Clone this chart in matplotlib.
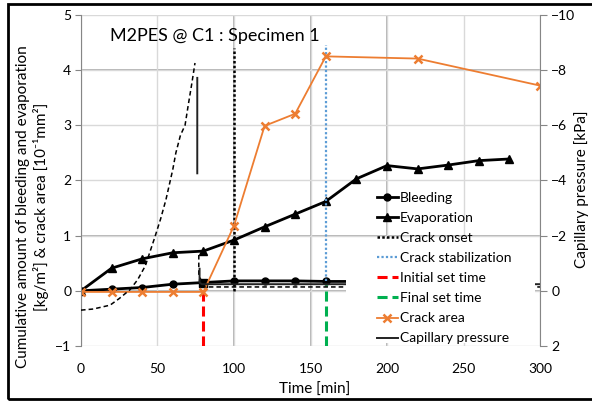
import matplotlib
matplotlib.use('Agg')
import matplotlib.pyplot as plt
from matplotlib.patches import Rectangle

plt.rcParams['font.family'] = ['Lato', 'DejaVu Sans']

# bleeding / evaporation [kg/m2]
time = [0, 20, 40, 60, 80, 100, 120, 140, 160, 180, 200, 220, 240, 260, 280]
bleeding = [0.0, 0.03, 0.06, 0.12, 0.15, 0.18, 0.18, 0.18, 0.17, 0.17, 0.17, 0.17, 0.17, 0.17, 0.17]
evaporation = [0.0, 0.41, 0.58, 0.69, 0.72, 0.92, 1.16, 1.39, 1.62, 2.03, 2.27, 2.21, 2.28, 2.36, 2.39]

# crack area [10^-1 mm2]
crack_time = [0, 20, 40, 60, 80, 100, 120, 140, 160, 220, 300]
crack_area = [-0.02, -0.02, -0.02, -0.02, -0.02, 1.18, 2.99, 3.21, 4.25, 4.21, 3.72]

# event times [min]
crack_onset = 100
crack_stab = 160
initial_set = 80
final_set = 160

# capillary pressure [kPa] (secondary axis), nan = gap in record
nan = float('nan')
cap1_time = [0, 8, 19, 25, 32, 37, 42, 45, 48, 52, 55.5, 60, 62, 65, 68, 70, 72.5, 74.5,
             nan, 77, 77, 80, 300]
cap1 = [0.7, 0.66, 0.52, 0.28, -0.04, -0.4, -0.9, -1.4, -1.9, -2.6, -3.3, -4.4, -5.0, -5.64,
        -6.0, -6.7, -7.54, -8.26, nan, -1.3, -0.6, -0.14, -0.14]
cap2_time = [76, 76, nan, 77.5, 77.5, 79, 300]
cap2 = [-7.72, -4.26, nan, -0.8, -0.3, -0.24, -0.24]

fig = plt.figure(figsize=(5.92, 4.01), dpi=100)
ax = fig.add_axes([0.1368, 0.1372, 0.7754, 0.8254])
ax2 = ax.twinx()

ax.set_xlim(0, 300)
ax.set_ylim(-1, 5)
ax2.set_ylim(2, -10)
ax.set_xticks(range(0, 301, 50))
ax.set_yticks(range(-1, 6))
ax2.set_yticks(range(-10, 3, 2))

ax.grid(color='#d9d9d9', lw=1)
for x in [100, 150, 200]:
    ax.axvline(x, color='#a6a6a6', lw=1.2, zorder=1)
for y in [0, 1, 4]:
    ax.axhline(y, color='#a6a6a6', lw=1.2, zorder=1)

for s in ['top', 'bottom', 'right']:
    ax.spines[s].set_visible(False)
for s in ['top', 'bottom', 'left']:
    ax2.spines[s].set_visible(False)
ax.spines['left'].set_color('#868686')
ax2.spines['right'].set_color('#868686')

ax.tick_params(axis='y', direction='out', length=4, color='#868686', labelsize=10, pad=3)
ax.tick_params(axis='x', length=0, labelsize=10, pad=12)
ax2.tick_params(axis='y', direction='out', length=5, color='#868686', labelsize=10, pad=3)

l_bl, = ax.plot(time, bleeding, '-o', color='black', lw=2, ms=5, label='Bleeding')
ax.plot([initial_set], [bleeding[4]], 's', color='black', ms=5.5)
l_ev, = ax.plot(time, evaporation, '-^', color='black', lw=2, ms=6, label='Evaporation')
l_on, = ax.plot([crack_onset, crack_onset], [0, 4.4], color='black', lw=1.8,
                ls=(0, (1, 0.9)), label='Crack onset')
l_st, = ax.plot([crack_stab, crack_stab], [0.17, 4.46], color='#5b9bd5', lw=1.6,
                ls=(0, (1, 1)), label='Crack stabilization')
l_is, = ax.plot([initial_set, initial_set], [-1, 0], color='#ff0000', lw=2.2,
                ls=(0, (3.3, 1.6)), label='Initial set time')
l_fs, = ax.plot([final_set, final_set], [-1, 0.1], color='#00b050', lw=2.2,
                ls=(0, (3.3, 1.6)), label='Final set time')
l_cr, = ax.plot(crack_time, crack_area, '-', color='#ed7d31', lw=1.3, marker='x', ms=6,
                mew=1.8, label='Crack area')

ax2.plot(cap1_time, cap1, color='black', lw=1.1, ls=(0, (3, 2)))
l_cp, = ax2.plot(cap2_time, cap2, color='#222222', lw=1.4, label='Capillary pressure')

# white legend area
ax2.add_patch(Rectangle((173, 1.89), 124, -3.76, facecolor='white', edgecolor='none', zorder=5))
handles = [l_bl, l_ev, l_on, l_st, l_is, l_fs, l_cr, l_cp]
leg = ax2.legend(handles, [h.get_label() for h in handles], loc='upper left',
                 bbox_to_anchor=(0.645, 0.465), frameon=False, fontsize=10,
                 borderpad=0, handlelength=1.5, handletextpad=0.15, labelspacing=0.58,
                 borderaxespad=0)
leg.set_zorder(6)

ax.text(0.063, 0.937, 'M2PES @ C1 : Specimen 1', transform=ax.transAxes, fontsize=13,
        va='center', ha='left')

ax.set_xlabel('Time [min]', fontsize=11)
ax.xaxis.set_label_coords(0.51, -0.11)
ax.set_ylabel('Cumulative amount of bleeding and evaporation\n[kg/m\u00b2] & crack area [10\u207b\u00b9mm\u00b2]',
              fontsize=11, linespacing=1.25)
ax.yaxis.set_label_coords(-0.07, 0.42)
ax2.set_ylabel('Capillary pressure [kPa]', fontsize=11)
ax2.yaxis.set_label_coords(1.075, 0.474)

fig.patches.append(Rectangle((7.5 / 592, 2.5 / 401), 1.2, 395 / 401, transform=fig.transFigure,
                             fill=False, edgecolor='black', lw=2))

fig.savefig('out.png', dpi=100)
